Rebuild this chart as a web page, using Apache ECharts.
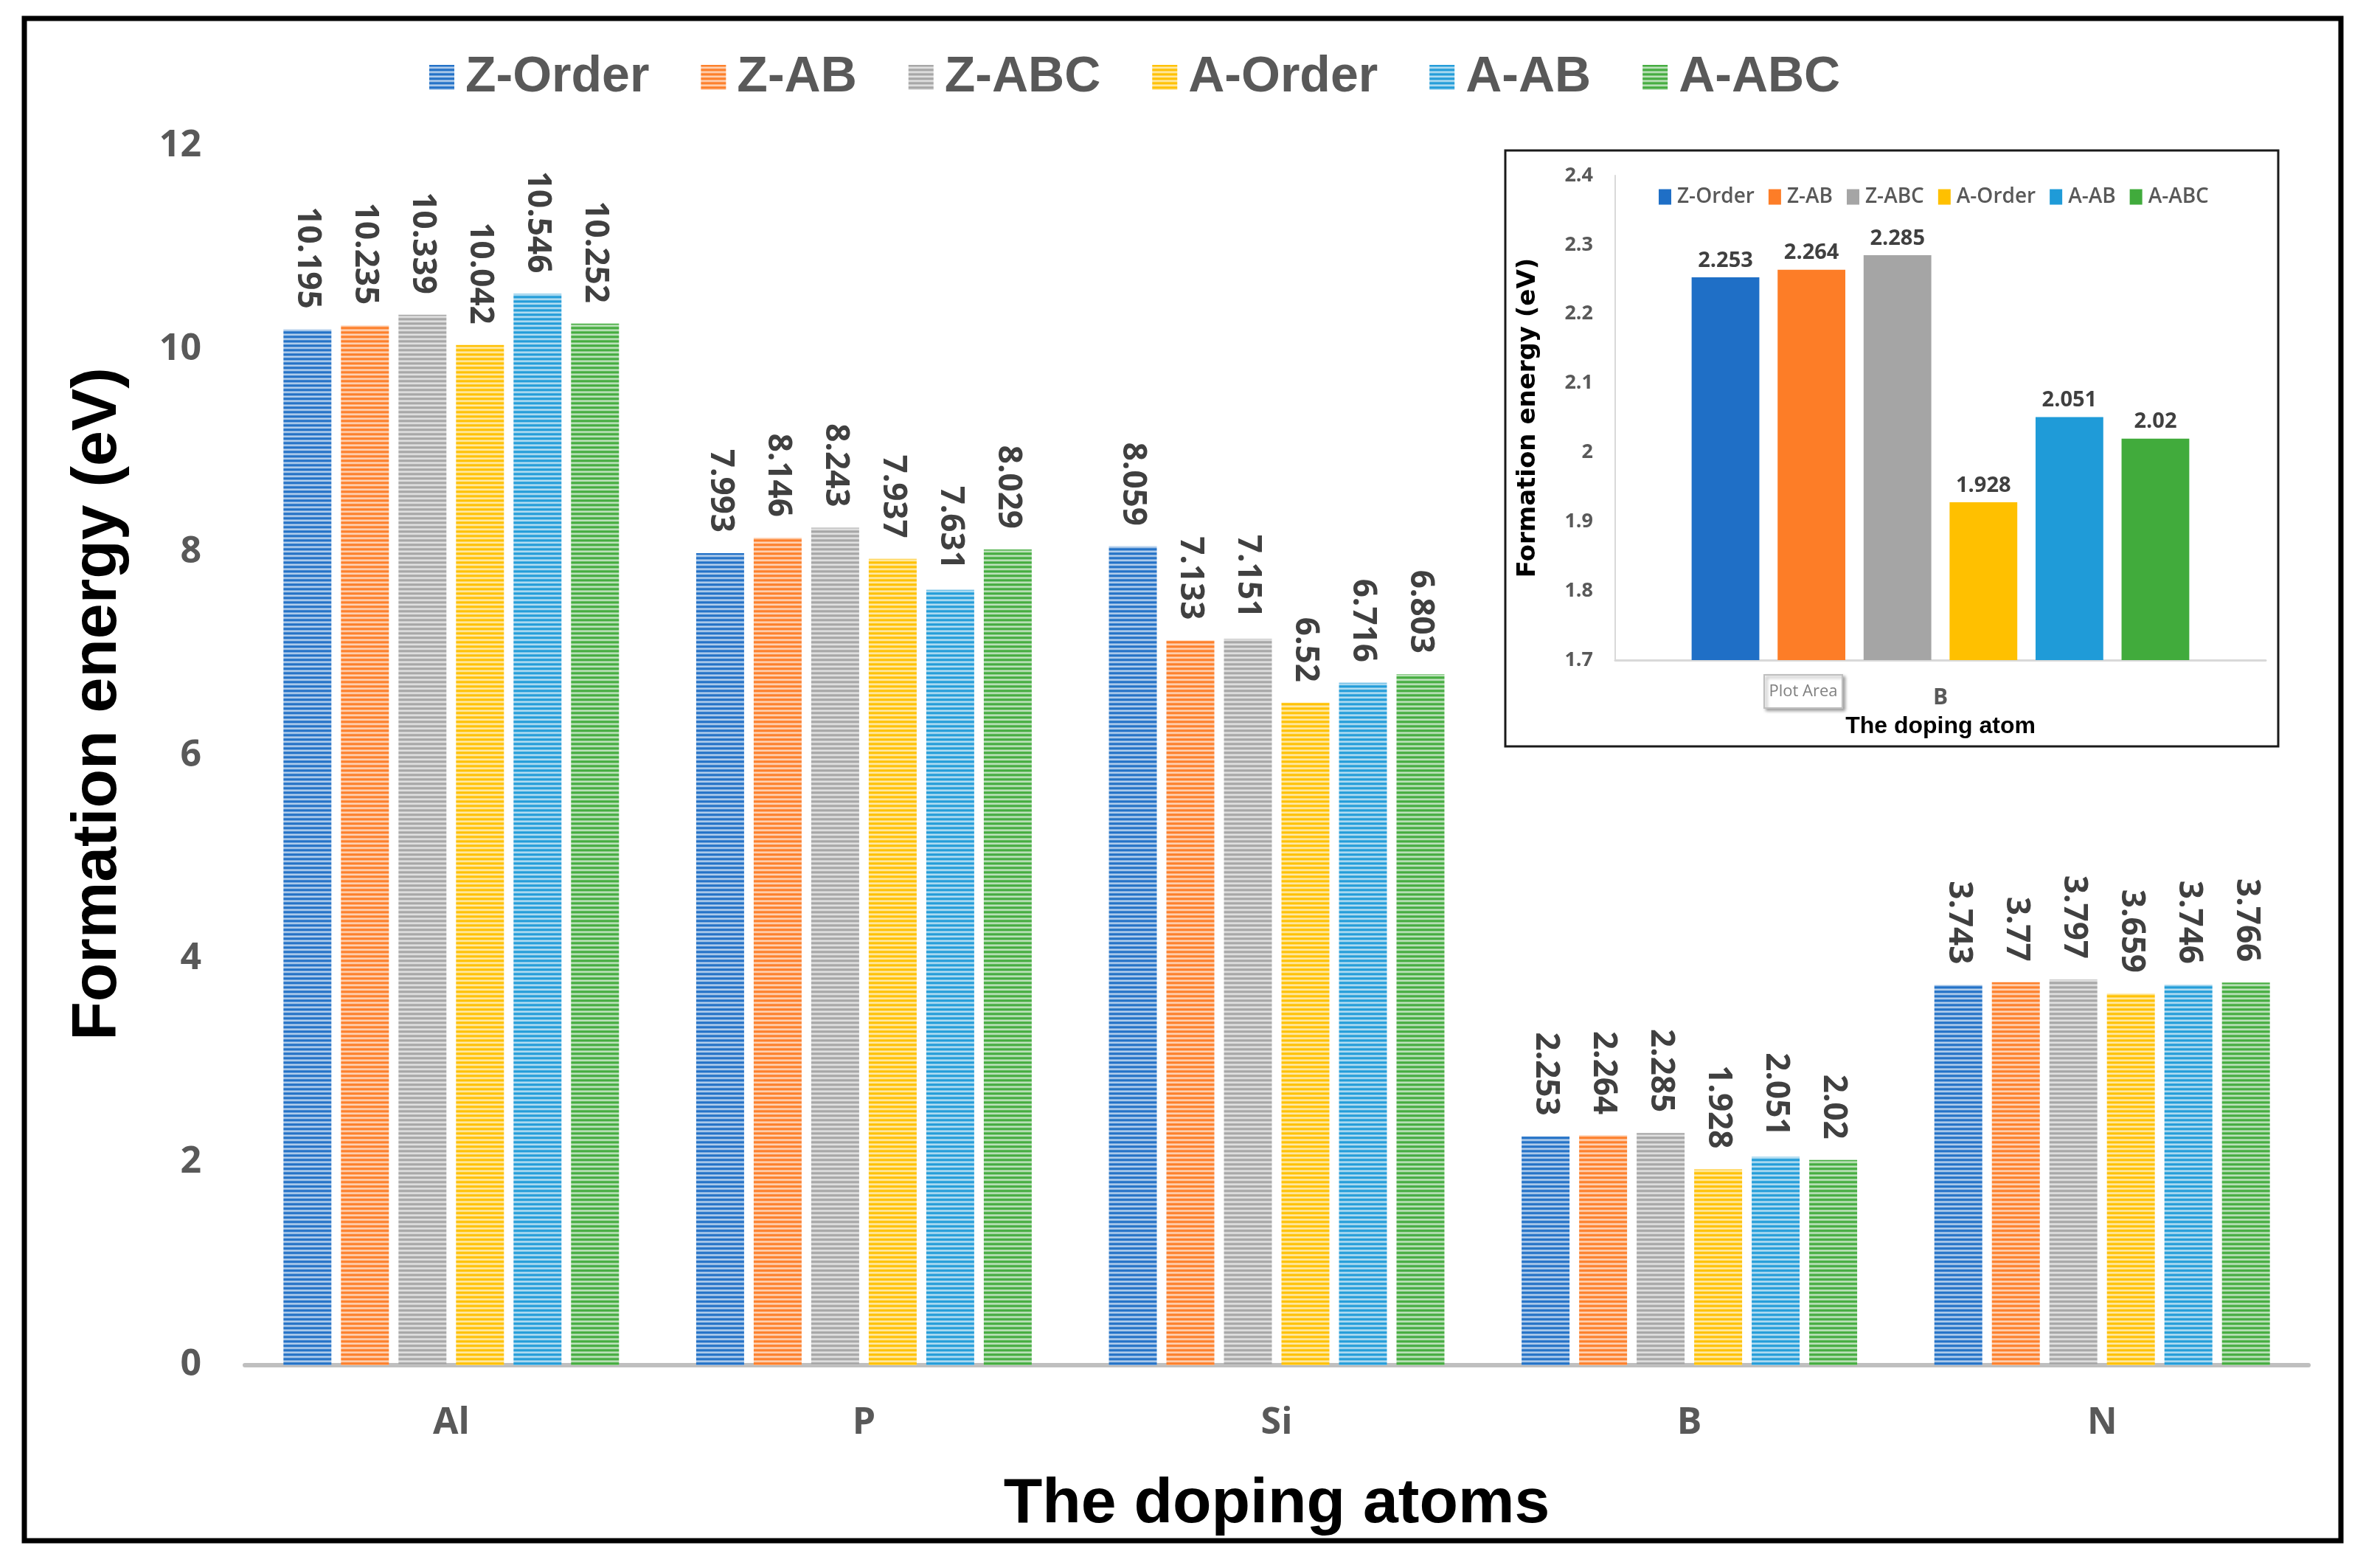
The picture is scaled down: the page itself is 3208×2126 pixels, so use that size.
<!DOCTYPE html>
<html>
<head>
<meta charset="utf-8">
<script src="https://cdn.jsdelivr.net/npm/echarts@6/dist/echarts.min.js"></script>
<style>
  html, body { margin: 0; padding: 0; background: #ffffff; }
  #chart { width: 3208px; height: 2126px; }
</style>
</head>
<body>
<div id="chart"></div>
<script>
// ---------------- data ----------------
const categories = ['Al', 'P', 'Si', 'B', 'N'];
const seriesNames = ['Z-Order', 'Z-AB', 'Z-ABC', 'A-Order', 'A-AB', 'A-ABC'];
const zOrder = [10.195, 7.993, 8.059, 2.253, 3.743];
const zAB    = [10.235, 8.146, 7.133, 2.264, 3.77];
const zABC   = [10.339, 8.243, 7.151, 2.285, 3.797];
const aOrder = [10.042, 7.937, 6.52, 1.928, 3.659];
const aAB    = [10.546, 7.631, 6.716, 2.051, 3.746];
const aABC   = [10.252, 8.029, 6.803, 2.02, 3.766];
const seriesValues = [zOrder, zAB, zABC, aOrder, aAB, aABC];
const yMin = 0, yMax = 12, yStep = 2;
// inset: the doping atom B
const insetCategory = ['B'];
const insetIndex = categories.indexOf('B');
const insetMin = 1.7, insetMax = 2.4, insetStep = 0.1;

// ---------------- styles ----------------
const colors = ['#1f6fc6', '#fd7d27', '#a5a5a5', '#ffc000', '#1f9bd8', '#41ab3c'];
const GREY_TXT = '#595959';
const LABEL_TXT = '#404040';
const ARIAL = "'Liberation Sans', Arial, sans-serif";
const CAL = "'Open Sans', 'Noto Sans', sans-serif";

function mix(hex, t) {
  const r = parseInt(hex.slice(1, 3), 16), g = parseInt(hex.slice(3, 5), 16), b = parseInt(hex.slice(5, 7), 16);
  const m = c => Math.round(c + (255 - c) * t);
  return 'rgb(' + m(r) + ',' + m(g) + ',' + m(b) + ')';
}
function stripePattern(hex) {
  const c = document.createElement('canvas');
  c.width = 8; c.height = 6;
  const ctx = c.getContext('2d');
  const rows = [0, 0.05, 0.35, 0.7, 0.55, 0.2];
  rows.forEach((t, i) => { ctx.fillStyle = mix(hex, t); ctx.fillRect(0, i, 8, 1); });
  return { image: c, repeat: 'repeat' };
}

const mainSeries = seriesNames.map((name, i) => ({
  name: name,
  type: 'bar',
  xAxisIndex: 0, yAxisIndex: 0,
  data: seriesValues[i],
  barGap: '20%',
  barCategoryGap: '18.7%',
  itemStyle: { color: stripePattern(colors[i]) },
  label: {
    show: true,
    position: 'top',
    rotate: -90,
    align: 'right',
    verticalAlign: 'middle',
    distance: 28,
    fontFamily: CAL,
    fontWeight: 'bold',
    fontSize: 44,
    color: LABEL_TXT
  }
}));

const insetSeries = seriesNames.map((name, i) => ({
  name: name + '#in',
  type: 'bar',
  xAxisIndex: 1, yAxisIndex: 1,
  data: [seriesValues[i][insetIndex]],
  barGap: '27%',
  barCategoryGap: '23.5%',
  itemStyle: { color: colors[i] },
  label: {
    show: true,
    position: 'top',
    distance: 8,
    fontFamily: CAL,
    fontWeight: 'bold',
    fontSize: 29,
    color: LABEL_TXT
  }
}));

const option = {
  backgroundColor: '#ffffff',
  animation: false,
  legend: [
    {
      data: seriesNames,
      left: 577,
      top: 66,
      icon: 'rect',
      itemWidth: 34,
      itemHeight: 34,
      itemGap: 70,
      textStyle: { fontFamily: ARIAL, fontWeight: 'bold', fontSize: 68, color: GREY_TXT, padding: [0, 0, 0, 10] }
    },
    {
      data: seriesNames.map(n => n + '#in'),
      formatter: n => n.replace('#in', ''),
      left: 2244,
      top: 248,
      icon: 'rect',
      itemWidth: 17,
      itemHeight: 21,
      itemGap: 19,
      textStyle: { fontFamily: CAL, fontWeight: 600, fontSize: 28, color: GREY_TXT, padding: [0, 0, 0, 3] }
    }
  ],
  grid: [
    { left: 332, right: 78, top: 198, bottom: 275, containLabel: false },
    { left: 2190, right: 136, top: 238, bottom: 1231, containLabel: false }
  ],
  xAxis: [
    {
      gridIndex: 0,
      type: 'category',
      data: categories,
      name: 'The doping atoms',
      nameLocation: 'middle',
      nameGap: 146,
      nameTextStyle: { fontFamily: ARIAL, fontWeight: 'bold', fontSize: 86, color: '#000000' },
      axisLine: { show: true, lineStyle: { color: '#bfbfbf', width: 6 } },
      axisTick: { show: false },
      axisLabel: { margin: 54, fontFamily: CAL, fontWeight: 'bold', fontSize: 50, color: GREY_TXT }
    },
    {
      gridIndex: 1,
      type: 'category',
      data: insetCategory,
      name: 'The doping atom',
      nameLocation: 'middle',
      nameGap: 74,
      nameTextStyle: { fontFamily: ARIAL, fontWeight: 'bold', fontSize: 32, color: '#000000' },
      axisLine: { show: true, lineStyle: { color: '#d9d9d9', width: 3 } },
      axisTick: { show: false },
      axisLabel: { margin: 36, fontFamily: CAL, fontWeight: 'bold', fontSize: 30, color: GREY_TXT }
    }
  ],
  yAxis: [
    {
      gridIndex: 0,
      type: 'value',
      min: yMin, max: yMax, interval: yStep,
      name: 'Formation energy (eV)',
      nameLocation: 'middle',
      nameGap: 156,
      nameTextStyle: { fontFamily: ARIAL, fontWeight: 'bold', fontSize: 86, color: '#000000', padding: [0, 0, 0, 140] },
      axisLine: { show: false },
      axisTick: { show: false },
      splitLine: { show: false },
      axisLabel: { margin: 59, fontFamily: CAL, fontWeight: 'bold', fontSize: 50, color: GREY_TXT }
    },
    {
      gridIndex: 1,
      type: 'value',
      min: insetMin, max: insetMax, interval: insetStep,
      name: 'Formation energy (eV)',
      nameLocation: 'middle',
      nameGap: 101,
      nameTextStyle: { fontFamily: "'DejaVu Sans', sans-serif", fontWeight: 'bold', fontSize: 34, color: '#000000' },
      axisLine: { show: true, lineStyle: { color: '#d9d9d9', width: 2 } },
      axisTick: { show: false },
      splitLine: { show: false },
      axisLabel: {
        margin: 30, fontFamily: CAL, fontWeight: 'bold', fontSize: 27, color: GREY_TXT,
        formatter: v => String(+Number(v).toFixed(1))
      }
    }
  ],
  graphic: [
    {
      type: 'rect', z: -10,
      shape: { x: 33, y: 25, width: 3141, height: 2064 },
      style: { fill: 'none', stroke: '#000000', lineWidth: 7 }
    },
    {
      type: 'rect', z: -5,
      shape: { x: 2041, y: 204, width: 1048, height: 808 },
      style: { fill: '#ffffff', stroke: '#1a1a1a', lineWidth: 3 }
    },
    {
      type: 'group', x: 2392, y: 915, z: 100,
      children: [
        {
          type: 'rect',
          shape: { x: 0, y: 0, width: 106, height: 45 },
          style: { fill: '#ffffff', stroke: '#bfbfbf', lineWidth: 2, shadowBlur: 4, shadowOffsetX: 3, shadowOffsetY: 3, shadowColor: 'rgba(0,0,0,0.35)' }
        },
        {
          type: 'text',
          style: { x: 53, y: 23, text: 'Plot Area', textAlign: 'center', textVerticalAlign: 'middle', font: "22px 'Open Sans', sans-serif", fill: '#7f7f7f' }
        }
      ]
    }
  ],
  series: mainSeries.concat(insetSeries)
};

const chart = echarts.init(document.getElementById('chart'), null, { renderer: 'canvas' });
chart.setOption(option);
</script>
</body>
</html>
